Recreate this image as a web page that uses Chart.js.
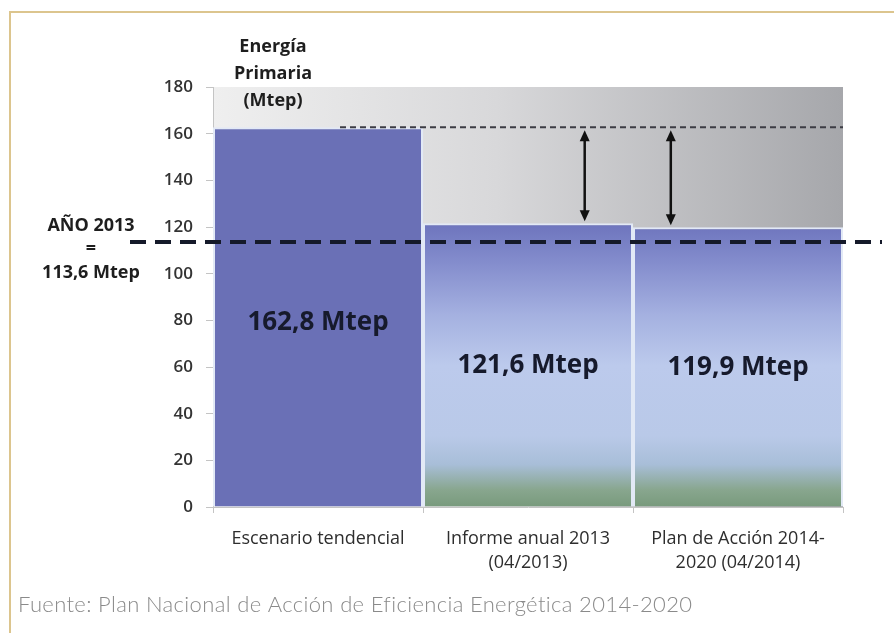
<!DOCTYPE html>
<html lang="es">
<head>
<meta charset="utf-8">
<title>Energía Primaria (Mtep)</title>
<script src="https://cdn.jsdelivr.net/npm/chart.js@4/dist/chart.umd.min.js"></script>
<style>
  html, body { margin: 0; padding: 0; background: #ffffff; }
  #wrap { width: 894px; height: 633px; position: relative; }
  canvas { display: block; }
</style>
</head>
<body>
<div id="wrap"><canvas id="chart" width="894" height="633"></canvas></div>
<script>
// Scenario categories (multi-line axis labels)
const categories = [
  ["Escenario tendencial"],
  ["Informe anual 2013", "(04/2013)"],
  ["Plan de Acción 2014-", "2020 (04/2014)"]
];
// Primary energy consumption, Mtep
const consumption = [162.8, 121.6, 119.9];
const valueLabels = ["162,8 Mtep", "121,6 Mtep", "119,9 Mtep"];

// Y axis range
const yMin = 0;
const yMax = 180;
const yStep = 20;

// 2013 reference level
const reference2013 = 113.6;
const referenceLabel = ["AÑO 2013", "=", "113,6 Mtep"];

const titleLines = ["Energía", "Primaria", "(Mtep)"];
const sourceNote = "Fuente: Plan Nacional de Acción de Eficiencia Energética 2014-2020";

// Savings arrows: category position (fractional index) and the bar they point to
const arrowPositions = [1.27, 1.68];
const arrowTargets = [1, 2];

const SANS = "'Open Sans', 'Liberation Sans', sans-serif";

function barFill(ctx) {
  const chart = ctx.chart;
  const area = chart.chartArea;
  if (!area) return '#6a70b6';
  if (ctx.dataIndex === 0) return '#6a70b6';
  const y = chart.scales.y;
  const top = y.getPixelForValue(consumption[1]);
  const bottom = y.getPixelForValue(0);
  const g = chart.ctx.createLinearGradient(0, bottom, 0, top);
  g.addColorStop(0.00, '#789a7c');
  g.addColorStop(0.06, '#88a68e');
  g.addColorStop(0.15, '#a8bed8');
  g.addColorStop(0.25, '#b9c9e8');
  g.addColorStop(0.50, '#bccaec');
  g.addColorStop(0.68, '#a4b0e0');
  g.addColorStop(0.86, '#848dcd');
  g.addColorStop(1.00, '#6d74bd');
  return g;
}

const decorations = {
  id: 'decorations',
  beforeDraw(chart) {
    const { ctx, chartArea: a } = chart;
    ctx.save();
    // page frame
    ctx.strokeStyle = '#dcc58e';
    ctx.lineWidth = 2;
    ctx.beginPath();
    ctx.moveTo(10, 633);
    ctx.lineTo(10, 12);
    ctx.lineTo(894, 12);
    ctx.stroke();
    // plot background
    const g = ctx.createLinearGradient(a.left, 0, a.right, 0);
    g.addColorStop(0, '#efefef');
    g.addColorStop(0.45, '#d8d8da');
    g.addColorStop(1, '#a6a7ab');
    ctx.fillStyle = g;
    ctx.fillRect(a.left, a.top, a.right - a.left, a.bottom - a.top);
    ctx.restore();
  },
  afterDatasetsDraw(chart) {
    const { ctx, chartArea: a, scales: { x, y } } = chart;
    ctx.save();

    // trend level dotted line
    const yTrend = y.getPixelForValue(consumption[0]);
    ctx.strokeStyle = '#3c3c44';
    ctx.lineWidth = 2;
    ctx.setLineDash([6, 4]);
    ctx.beginPath();
    ctx.moveTo(x.getPixelForValue(0) + 22, yTrend);
    ctx.lineTo(a.right, yTrend);
    ctx.stroke();
    ctx.setLineDash([]);

    // savings arrows
    ctx.strokeStyle = '#111';
    ctx.fillStyle = '#111';
    ctx.lineWidth = 2.5;
    arrowPositions.forEach((pos, i) => {
      const ax = x.getPixelForValue(pos);
      const y1 = yTrend + 3;
      const y2 = y.getPixelForValue(consumption[arrowTargets[i]]) - 2;
      ctx.beginPath();
      ctx.moveTo(ax, y1 + 8);
      ctx.lineTo(ax, y2 - 8);
      ctx.stroke();
      ctx.beginPath();
      ctx.moveTo(ax, y1); ctx.lineTo(ax - 5, y1 + 11); ctx.lineTo(ax + 5, y1 + 11); ctx.closePath();
      ctx.fill();
      ctx.beginPath();
      ctx.moveTo(ax, y2); ctx.lineTo(ax - 5, y2 - 11); ctx.lineTo(ax + 5, y2 - 11); ctx.closePath();
      ctx.fill();
    });

    // 2013 reference dashed line
    const yRef = y.getPixelForValue(reference2013);
    ctx.strokeStyle = '#151a2a';
    ctx.lineWidth = 4;
    ctx.setLineDash([16, 9]);
    ctx.beginPath();
    ctx.moveTo(130, yRef);
    ctx.lineTo(882, yRef);
    ctx.stroke();
    ctx.setLineDash([]);

    // values inside bars
    ctx.fillStyle = '#161a2c';
    ctx.font = `bold 26px ${SANS}`;
    ctx.textAlign = 'center';
    ctx.textBaseline = 'middle';
    consumption.forEach((v, i) => {
      ctx.fillText(valueLabels[i], x.getPixelForValue(i), y.getPixelForValue(v / 2) + (i === 0 ? 6 : 0));
    });

    // axis title
    ctx.fillStyle = '#1e1e1e';
    ctx.font = `bold 18px ${SANS}`;
    titleLines.forEach((t, i) => ctx.fillText(t, 273, 47 + i * 27));

    // reference label
    ctx.font = `bold 18px ${SANS}`;
    ctx.fillText(referenceLabel[0], 91, yRef - 16);
    ctx.fillText(referenceLabel[1], 91, yRef + 7);
    ctx.fillText(referenceLabel[2], 91, yRef + 31);

    // source
    ctx.fillStyle = '#8a8a8a';
    ctx.font = `300 22px Lato, ${SANS}`;
    ctx.textAlign = 'left';
    if ('letterSpacing' in ctx) ctx.letterSpacing = '0.35px';
    ctx.fillText(sourceNote, 18, 605);

    ctx.restore();
  }
};

new Chart(document.getElementById('chart'), {
  type: 'bar',
  data: {
    labels: categories,
    datasets: [{
      data: consumption,
      backgroundColor: barFill,
      borderColor: '#e2e9f6',
      borderWidth: 2,
      borderSkipped: 'start',
      inflateAmount: 0,
      barPercentage: 1,
      categoryPercentage: 1
    }]
  },
  options: {
    responsive: false,
    devicePixelRatio: 1,
    animation: false,
    layout: { padding: { left: 0, right: 51, top: 87, bottom: 0 } },
    plugins: { legend: { display: false }, tooltip: { enabled: false } },
    scales: {
      x: {
        afterFit(scale) { scale.height = 126; },
        grid: { drawOnChartArea: false, tickLength: 6, color: '#c4c4c4', offset: true },
        border: { color: '#c4c4c4', width: 1 },
        ticks: {
          color: '#2e2e2e',
          font: { family: SANS, size: 18, lineHeight: 1.38 },
          padding: 13,
          maxRotation: 0
        }
      },
      y: {
        min: yMin,
        max: yMax,
        afterFit(scale) { scale.width = 213; },
        grid: { drawOnChartArea: false, tickLength: 7, color: '#c4c4c4' },
        border: { color: '#c4c4c4', width: 1 },
        ticks: {
          stepSize: yStep,
          color: '#333',
          padding: 13,
          font: { family: SANS, size: 17, weight: '600' }
        }
      }
    }
  },
  plugins: [decorations]
});
</script>
</body>
</html>
